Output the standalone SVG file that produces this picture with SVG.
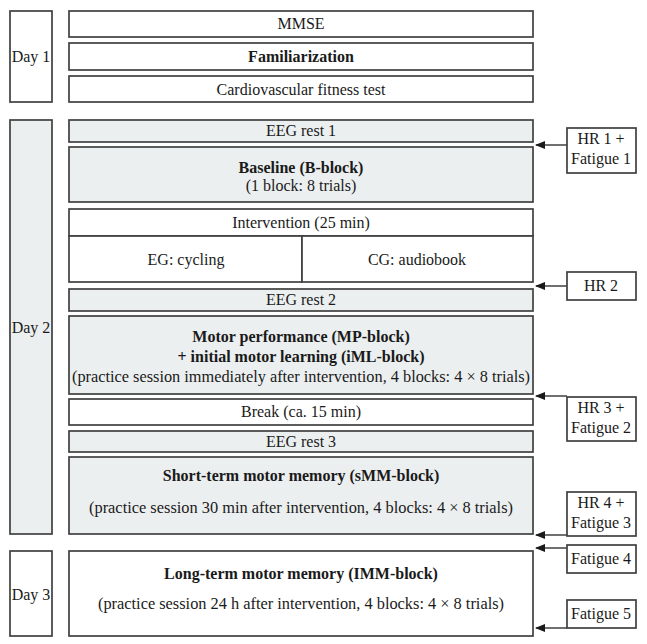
<svg xmlns="http://www.w3.org/2000/svg" width="647" height="644" viewBox="0 0 647 644">
<defs>
<style>
.b{fill:#ffffff;stroke:#404040;stroke-width:1.7}
.g{fill:#eceff0;stroke:#404040;stroke-width:1.7}
.c{stroke:#404040;stroke-width:1.5;fill:none}
</style>
<marker id="ah" markerWidth="10" markerHeight="8" refX="9" refY="4" orient="auto" markerUnits="userSpaceOnUse">
<path d="M0,0 L10,4 L0,8 Z" fill="#1a1a1a"/>
</marker>
</defs>
<rect width="647" height="644" fill="#ffffff"/>

<g id="day1">
<rect class="b" x="10" y="11" width="42" height="91"/>
<text x="31" y="62" font-family="Liberation Serif, serif" font-size="16" fill="#1a1a1a" text-anchor="middle">Day 1</text>
</g>
<g id="mmse">
<rect class="b" x="69" y="11" width="464" height="26"/>
<text x="301" y="29" font-family="Liberation Serif, serif" font-size="16" fill="#1a1a1a" text-anchor="middle">MMSE</text>
</g>
<g id="familiarization">
<rect class="b" x="69" y="43" width="464" height="27"/>
<text x="301" y="62" font-family="Liberation Serif, serif" font-size="16" font-weight="bold" fill="#1a1a1a" text-anchor="middle">Familiarization</text>
</g>
<g id="cardio">
<rect class="b" x="69" y="76" width="464" height="26"/>
<text x="301" y="95" font-family="Liberation Serif, serif" font-size="16" fill="#1a1a1a" text-anchor="middle">Cardiovascular fitness test</text>
</g>

<g id="day2">
<rect class="g" x="10" y="120" width="42" height="414"/>
<text x="31" y="333" font-family="Liberation Serif, serif" font-size="16" fill="#1a1a1a" text-anchor="middle">Day 2</text>
</g>
<g id="eeg1">
<rect class="g" x="69" y="120" width="464" height="22"/>
<text x="301" y="136" font-family="Liberation Serif, serif" font-size="16" fill="#1a1a1a" text-anchor="middle">EEG rest 1</text>
</g>
<g id="baseline">
<rect class="g" x="69" y="147" width="464" height="55"/>
<text x="301" y="173" font-family="Liberation Serif, serif" font-size="16" font-weight="bold" fill="#1a1a1a" text-anchor="middle">Baseline (B-block)</text>
<text x="301" y="191" font-family="Liberation Serif, serif" font-size="16" fill="#1a1a1a" text-anchor="middle">(1 block: 8 trials)</text>
</g>
<g id="intervention">
<rect class="b" x="69" y="209" width="464" height="27"/>
<text x="301" y="228" font-family="Liberation Serif, serif" font-size="16" fill="#1a1a1a" text-anchor="middle">Intervention (25 min)</text>
</g>
<g id="eg">
<rect class="b" x="69" y="236" width="233" height="46"/>
<text x="186" y="265" font-family="Liberation Serif, serif" font-size="16" fill="#1a1a1a" text-anchor="middle">EG: cycling</text>
</g>
<g id="cg">
<rect class="b" x="302" y="236" width="231" height="46"/>
<text x="417" y="265" font-family="Liberation Serif, serif" font-size="16" fill="#1a1a1a" text-anchor="middle">CG: audiobook</text>
</g>
<g id="eeg2">
<rect class="g" x="69" y="289" width="464" height="22"/>
<text x="301" y="305" font-family="Liberation Serif, serif" font-size="16" fill="#1a1a1a" text-anchor="middle">EEG rest 2</text>
</g>
<g id="motorperf">
<rect class="g" x="69" y="316" width="464" height="78"/>
<text x="301" y="342" font-family="Liberation Serif, serif" font-size="16" font-weight="bold" fill="#1a1a1a" text-anchor="middle">Motor performance (MP-block)</text>
<text x="301" y="362" font-family="Liberation Serif, serif" font-size="16" font-weight="bold" fill="#1a1a1a" text-anchor="middle">+ initial motor learning (iML-block)</text>
<text x="301" y="382" font-family="Liberation Serif, serif" font-size="16" fill="#1a1a1a" text-anchor="middle" textLength="458" lengthAdjust="spacingAndGlyphs">(practice session immediately after intervention, 4 blocks: 4 × 8 trials)</text>
</g>
<g id="break">
<rect class="b" x="69" y="399" width="464" height="26"/>
<text x="301" y="417" font-family="Liberation Serif, serif" font-size="16" fill="#1a1a1a" text-anchor="middle">Break (ca. 15 min)</text>
</g>
<g id="eeg3">
<rect class="g" x="69" y="431" width="464" height="21"/>
<text x="301" y="447" font-family="Liberation Serif, serif" font-size="16" fill="#1a1a1a" text-anchor="middle">EEG rest 3</text>
</g>
<g id="shortterm">
<rect class="g" x="69" y="457" width="464" height="77"/>
<text x="301" y="481" font-family="Liberation Serif, serif" font-size="16" font-weight="bold" fill="#1a1a1a" text-anchor="middle">Short-term motor memory (sMM-block)</text>
<text x="301" y="513" font-family="Liberation Serif, serif" font-size="16" fill="#1a1a1a" text-anchor="middle" textLength="424" lengthAdjust="spacingAndGlyphs">(practice session 30 min after intervention, 4 blocks: 4 × 8 trials)</text>
</g>

<g id="day3">
<rect class="b" x="10" y="551" width="42" height="85"/>
<text x="31" y="600" font-family="Liberation Serif, serif" font-size="16" fill="#1a1a1a" text-anchor="middle">Day 3</text>
</g>
<g id="longterm">
<rect class="b" x="69" y="551" width="464" height="85"/>
<text x="301" y="579" font-family="Liberation Serif, serif" font-size="16" font-weight="bold" fill="#1a1a1a" text-anchor="middle">Long-term motor memory (IMM-block)</text>
<text x="301" y="609" font-family="Liberation Serif, serif" font-size="16" fill="#1a1a1a" text-anchor="middle" textLength="406" lengthAdjust="spacingAndGlyphs">(practice session 24 h after intervention, 4 blocks: 4 × 8 trials)</text>
</g>

<g id="hr1">
<rect class="b" x="567" y="128" width="69" height="45"/>
<text x="601" y="144" font-family="Liberation Serif, serif" font-size="16" fill="#1a1a1a" text-anchor="middle">HR 1 +</text>
<text x="601" y="164" font-family="Liberation Serif, serif" font-size="16" fill="#1a1a1a" text-anchor="middle">Fatigue 1</text>
</g>
<g id="hr2">
<rect class="b" x="567" y="272" width="69" height="28"/>
<text x="601" y="291" font-family="Liberation Serif, serif" font-size="16" fill="#1a1a1a" text-anchor="middle">HR 2</text>
</g>
<g id="hr3">
<rect class="b" x="567" y="397" width="69" height="44"/>
<text x="601" y="413" font-family="Liberation Serif, serif" font-size="16" fill="#1a1a1a" text-anchor="middle">HR 3 +</text>
<text x="601" y="433" font-family="Liberation Serif, serif" font-size="16" fill="#1a1a1a" text-anchor="middle">Fatigue 2</text>
</g>
<g id="hr4">
<rect class="b" x="567" y="492" width="69" height="44"/>
<text x="601" y="508" font-family="Liberation Serif, serif" font-size="16" fill="#1a1a1a" text-anchor="middle">HR 4 +</text>
<text x="601" y="528" font-family="Liberation Serif, serif" font-size="16" fill="#1a1a1a" text-anchor="middle">Fatigue 3</text>
</g>
<g id="fatigue4">
<rect class="b" x="567" y="545" width="69" height="28"/>
<text x="601" y="564" font-family="Liberation Serif, serif" font-size="16" fill="#1a1a1a" text-anchor="middle">Fatigue 4</text>
</g>
<g id="fatigue5">
<rect class="b" x="567" y="600" width="69" height="28"/>
<text x="601" y="619" font-family="Liberation Serif, serif" font-size="16" fill="#1a1a1a" text-anchor="middle">Fatigue 5</text>
</g>

<g id="connectors">
<line class="c" x1="567" y1="145" x2="536" y2="145" marker-end="url(#ah)"/>
<line class="c" x1="567" y1="286" x2="536" y2="286" marker-end="url(#ah)"/>
<line class="c" x1="567" y1="396" x2="536" y2="396" marker-end="url(#ah)"/>
<line class="c" x1="567" y1="535" x2="536" y2="535" marker-end="url(#ah)"/>
<line class="c" x1="567" y1="548" x2="536" y2="548" marker-end="url(#ah)"/>
<line class="c" x1="567" y1="628" x2="536" y2="628" marker-end="url(#ah)"/>
</g>
</svg>
